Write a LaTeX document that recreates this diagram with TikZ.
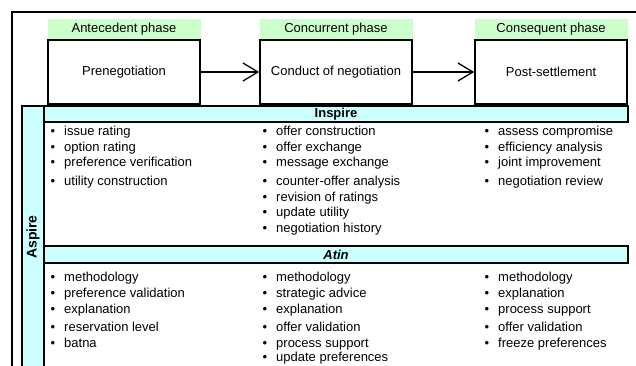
\documentclass[tikz,border=0pt]{standalone}
\usepackage{fontspec}
\setmainfont{Liberation Sans}
\usetikzlibrary{positioning}
\usetikzlibrary{arrows.meta}
\definecolor{phasegreen}{RGB}{204,255,204}
\definecolor{toolcyan}{RGB}{204,255,255}

\begin{document}
\begin{tikzpicture}
	[x=1pt, y=-1pt,
	font=\fontsize{13}{15}\selectfont,
	phase/.style={draw, line width=1.6pt, minimum width=152pt, minimum height=64pt, inner sep=0pt},
	phaselabel/.style={fill=phasegreen, minimum width=153pt, minimum height=20pt, inner sep=0pt},
	header/.style={draw, line width=1.3pt, fill=toolcyan, minimum width=584pt, inner sep=0pt, font=\fontsize{13}{15}\selectfont\bfseries},
	item/.style={anchor=base west, inner sep=0pt, execute at begin node={\llap{\textbullet\hspace{9pt}}}},
	>={Straight Barb[length=15pt, width=18pt]}]
	
	\useasboundingbox (0,0) rectangle (636,365);
	
	% frame
	\draw [line width=1.3pt] (12,380) -- (12,12) -- (650,12);
	
	% phases
	\node [phase] (pre) at (124,72) {Prenegotiation};
	\node [phase, right=58.4pt of pre] (conduct) {Conduct of negotiation};
	\node [phase, right=61.4pt of conduct] (post) {Post-settlement};
	\node [phaselabel, above=0pt of pre] (ante) {Antecedent phase};
	\node [phaselabel, above=0pt of conduct] (concur) {Concurrent phase};
	\node [phaselabel, above=0pt of post] (conseq) {Consequent phase};
	
	% arrows
	\draw [->, line width=1.3pt] (pre) -- (conduct);
	\draw [->, line width=1.3pt] (conduct) -- (post);
	
	% aspire band and headers
	\node [draw, line width=1.3pt, fill=toolcyan, rotate=90, minimum width=262pt, minimum height=22pt, inner sep=0pt,
		font=\fontsize{14}{16}\selectfont\bfseries] (aspire) at (33,237) {Aspire};
	\node [header, minimum height=16pt] (inspire) at (336,114) {Inspire};
	\node [header, minimum height=17pt] (atin) at (336,254.5) {\itshape Atin};
	
	% inspire lists
	\foreach \txt/\y [count=\i] in {issue rating/135.2, option rating/151.2, preference verification/166.8, utility construction/185.2}
		\node [item] (insA\i) at (64,\y) {\txt};
	\foreach \txt/\y [count=\i] in {offer construction/135.2, offer exchange/151.2, message exchange/166.8, counter-offer analysis/185.2,
		revision of ratings/201.2, update utility/216.8, negotiation history/232.5}
		\node [item] (insB\i) at (276,\y) {\txt};
	\foreach \txt/\y [count=\i] in {assess compromise/135.2, efficiency analysis/151.2, joint improvement/166.8, negotiation review/185.2}
		\node [item] (insC\i) at (498,\y) {\txt};
	
	% atin lists
	\foreach \txt/\y [count=\i] in {methodology/281.8, preference validation/297.5, explanation/313.5, reservation level/331.8, batna/347.8}
		\node [item] (atiA\i) at (64,\y) {\txt};
	\foreach \txt/\y [count=\i] in {methodology/281.8, strategic advice/297.5, explanation/313.5, offer validation/331.8,
		process support/347.8, update preferences/361.2}
		\node [item] (atiB\i) at (276,\y) {\txt};
	\foreach \txt/\y [count=\i] in {methodology/281.8, explanation/297.5, process support/313.5, offer validation/331.8, freeze preferences/347.8}
		\node [item] (atiC\i) at (498,\y) {\txt};
\end{tikzpicture}
\end{document}
